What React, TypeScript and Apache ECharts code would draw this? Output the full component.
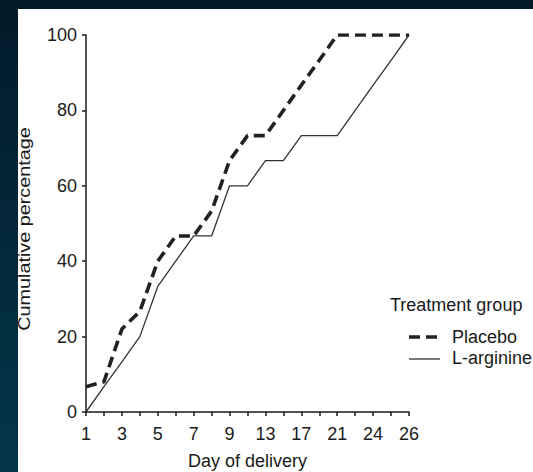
import React, { useEffect, useRef } from "react";
import * as echarts from "echarts";

const days = ["1", "2", "3", "4", "5", "6", "7", "8", "9", "11", "13", "15", "17", "19", "21", "22", "24", "25", "26"];
const placebo = [6.7, 8, 22, 26.7, 40, 46.7, 46.7, 53.3, 66.7, 73.3, 73.3, 80, 86.7, 93.3, 100, 100, 100, 100, 100];
const arginine = [0, 6.7, 13.3, 20, 33.3, 40, 46.7, 46.7, 60, 60, 66.7, 66.7, 73.3, 73.3, 73.3, 80, 86.7, 93.3, 100];
const seriesNames = ["Placebo", "L-arginine"];
const yTitle = "Cumulative percentage";
const xTitle = "Day of delivery";
const legendTitle = "Treatment group";

const FONT = "'Liberation Sans', Arial, Helvetica, sans-serif";
const INK = "#1a1a1a";

export default function App() {
  const ref = useRef<HTMLDivElement>(null);
  useEffect(() => {
    if (!ref.current) return;
    const chart = echarts.init(ref.current, undefined, { renderer: "svg" });
    chart.setOption({
      animation: false,
      backgroundColor: "transparent",
      textStyle: { fontFamily: FONT },
      grid: { left: 86, right: 124, top: 35, bottom: 60, containLabel: false, outerBoundsMode: "none" },
      xAxis: {
        type: "category",
        data: days,
        boundaryGap: false,
        name: xTitle,
        nameLocation: "middle",
        nameGap: 40,
        nameTextStyle: { fontSize: 18, color: INK, fontFamily: FONT },
        axisLine: { lineStyle: { color: INK, width: 1.5 } },
        axisTick: { show: true, interval: 0, length: 4, lineStyle: { color: INK, width: 1.5 } },
        axisLabel: { interval: 1, fontSize: 18, color: INK, margin: 13, fontFamily: FONT },
        splitLine: { show: false },
      },
      yAxis: {
        type: "value",
        min: 0,
        max: 100,
        interval: 20,
        axisLine: { show: true, lineStyle: { color: INK, width: 1.5 } },
        axisTick: { show: true, length: 4, lineStyle: { color: INK, width: 1.5 } },
        axisLabel: { fontSize: 18, color: INK, margin: 9, fontFamily: FONT },
        splitLine: { show: false },
      },
      series: [
        {
          name: seriesNames[0],
          type: "line",
          data: placebo,
          symbol: "none",
          lineStyle: { color: "#222", width: 3.6, type: [11, 6] },
          z: 3,
        },
        {
          name: seriesNames[1],
          type: "line",
          data: arginine,
          symbol: "none",
          lineStyle: { color: "#333", width: 1.3, type: "solid" },
          z: 2,
        },
      ],
      graphic: [
        {
          type: "text",
          x: 25,
          y: 229,
          rotation: Math.PI / 2,
          scaleX: 1.2,
          style: { text: yTitle, fontSize: 16.5, fill: INK, align: "center", verticalAlign: "middle", fontFamily: FONT },
        },
        {
          type: "text",
          x: 390,
          y: 305,
          style: { text: legendTitle, fontSize: 18, fill: INK, align: "left", verticalAlign: "middle", fontFamily: FONT },
        },
        {
          type: "line",
          shape: { x1: 409, y1: 337, x2: 440, y2: 337 },
          style: { stroke: "#222", lineWidth: 3.6, lineDash: [11, 6] },
        },
        {
          type: "text",
          x: 452,
          y: 337,
          style: { text: seriesNames[0], fontSize: 18, fill: INK, align: "left", verticalAlign: "middle", fontFamily: FONT },
        },
        {
          type: "line",
          shape: { x1: 409, y1: 359, x2: 440, y2: 359 },
          style: { stroke: "#333", lineWidth: 1.3 },
        },
        {
          type: "text",
          x: 452,
          y: 358,
          style: { text: seriesNames[1], fontSize: 18, fill: INK, align: "left", verticalAlign: "middle", fontFamily: FONT },
        },
      ],
    });
    return () => chart.dispose();
  }, []);

  return (
    <div
      style={{
        position: "fixed",
        left: 0,
        top: 0,
        width: 533,
        height: 472,
        overflow: "hidden",
        background: "linear-gradient(to bottom, #021a28 0%, #03283a 50%, #04364c 100%)",
      }}
    >
      <div style={{ position: "absolute", left: 18, top: 9, right: 0, bottom: 0, background: "#ffffff" }} />
      <div ref={ref} style={{ position: "absolute", left: 0, top: 0, width: 533, height: 472 }} />
    </div>
  );
}
